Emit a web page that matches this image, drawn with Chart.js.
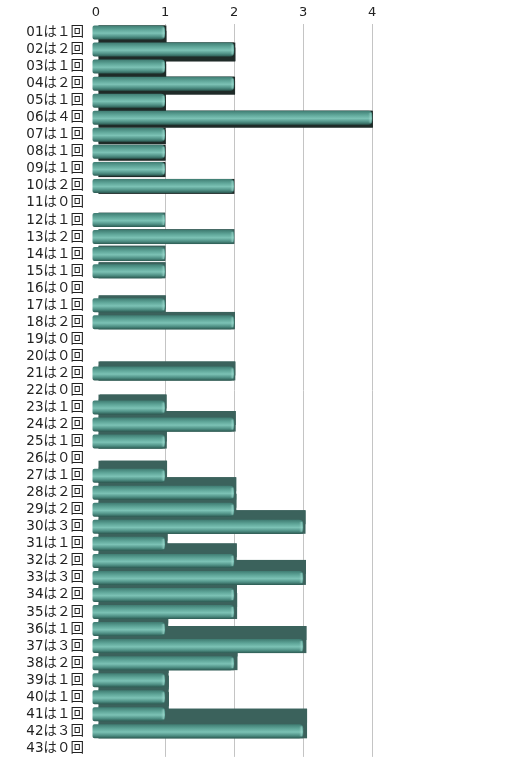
<!DOCTYPE html>
<html>
<head>
<meta charset="utf-8">
<script src="https://cdn.jsdelivr.net/npm/chart.js@4"></script>
<style>
  html, body { margin: 0; padding: 0; background: #fff; }
  #wrap { width: 512px; height: 769px; }
</style>
</head>
<body>
<div id="wrap"><canvas id="countChart"></canvas></div>
<script>
const numbers = ['01','02','03','04','05','06','07','08','09','10','11','12','13','14','15','16','17','18','19','20','21','22','23','24','25','26','27','28','29','30','31','32','33','34','35','36','37','38','39','40','41','42','43'];
const counts = [1,2,1,2,1,4,1,1,1,2,0,1,2,1,1,0,1,2,0,0,2,0,1,2,1,0,1,2,2,3,1,2,3,2,2,1,3,2,1,1,1,3,0];
const xTicks = [0, 1, 2, 3, 4];

const fullWidth = n => String(n).replace(/[0-9]/g, d => String.fromCharCode(d.charCodeAt(0) + 0xFEE0));
const labels = numbers.map((n, i) => n + 'は' + fullWidth(counts[i]) + '回');

// fake 3D: dark side of each bar, then a shiny face on top
const bar3d = {
    id: 'bar3d',
    beforeDatasetsDraw(chart) {
        const ctx = chart.ctx;
        const horizon = 210;
        chart.getDatasetMeta(0).data.forEach(bar => {
            if (bar.x - bar.base < 1) return;
            const h = bar.height;
            const top = bar.y - h / 2;
            const dy = (horizon - bar.y) * 0.03;   // >0 below the face, <0 above
            const dx = Math.abs(dy) * 0.25;
            ctx.save();
            ctx.fillStyle = bar.y < horizon ? '#1f2b28' : '#3b625c';
            ctx.beginPath();
            ctx.moveTo(bar.base + 2, top);
            ctx.lineTo(bar.x, top);
            ctx.lineTo(bar.x, top + h);
            ctx.lineTo(bar.base + 2, top + h);
            ctx.lineTo(bar.base + 2 + dx, top + h + dy);
            ctx.lineTo(bar.x + dx, top + h + dy);
            ctx.lineTo(bar.x + dx, top + dy);
            ctx.lineTo(bar.base + 2 + dx, top + dy);
            ctx.closePath();
            ctx.fill();
            ctx.fillRect(bar.base + 2, Math.min(top, top + dy), bar.x - bar.base - 2 + dx, h + Math.abs(dy));
            ctx.restore();
        });
    },
    afterDatasetsDraw(chart) {
        const ctx = chart.ctx;
        chart.getDatasetMeta(0).data.forEach(bar => {
            if (bar.x - bar.base < 1) return;
            const h = bar.height;
            const top = bar.y - h / 2;
            const g = ctx.createLinearGradient(0, top, 0, top + h);
            g.addColorStop(0, '#3f7c72');
            g.addColorStop(0.3, '#5fa699');
            g.addColorStop(0.55, '#7cc2b5');
            g.addColorStop(0.8, '#4f9085');
            g.addColorStop(1, '#2c5a52');
            ctx.save();
            ctx.fillStyle = g;
            ctx.beginPath();
            ctx.roundRect(bar.base - 4, top, bar.x - bar.base + 4, h, [2, 4, 4, 2]);
            ctx.fill();
            // end cap
            const c = ctx.createLinearGradient(bar.x - 4, 0, bar.x, 0);
            c.addColorStop(0, 'rgba(170,225,215,0)');
            c.addColorStop(1, 'rgba(170,225,215,0.8)');
            ctx.fillStyle = c;
            ctx.fillRect(bar.x - 4, top + 2, 3, h - 4);
            ctx.restore();
        });
    }
};

new Chart(document.getElementById('countChart'), {
    type: 'bar',
    data: {
        labels: labels,
        datasets: [{
            data: counts,
            backgroundColor: 'rgba(0,0,0,0)',
            borderWidth: 0,
            barPercentage: 0.82,
            categoryPercentage: 1.0
        }]
    },
    options: {
        indexAxis: 'y',
        responsive: true,
        maintainAspectRatio: false,
        animation: false,
        layout: {
            padding: { left: 0, right: 126, top: 0, bottom: 3 }
        },
        plugins: {
            legend: { display: false },
            tooltip: { enabled: false }
        },
        scales: {
            x: {
                position: 'top',
                min: 0,
                max: 4.2,
                afterBuildTicks: scale => {
                    scale.ticks = xTicks.map(v => ({ value: v }));
                },
                afterFit: scale => { scale.height = 24; },
                border: { display: false },
                grid: {
                    color: ctx => ctx.tick && ctx.tick.value === 0 ? 'rgba(0,0,0,0)' : '#c4c4c4',
                    lineWidth: 1,
                    drawTicks: false
                },
                ticks: {
                    color: '#222',
                    padding: 4,
                    font: { family: 'DejaVu Sans, Noto Sans CJK JP', size: 13 }
                }
            },
            y: {
                afterFit: scale => { scale.width = 96; },
                border: { display: false },
                grid: { display: false },
                ticks: {
                    color: '#222',
                    padding: 4,
                    autoSkip: false,
                    font: { family: 'DejaVu Sans, Noto Sans CJK JP', size: 13.5 }
                }
            }
        }
    },
    plugins: [bar3d]
});
</script>
</body>
</html>
